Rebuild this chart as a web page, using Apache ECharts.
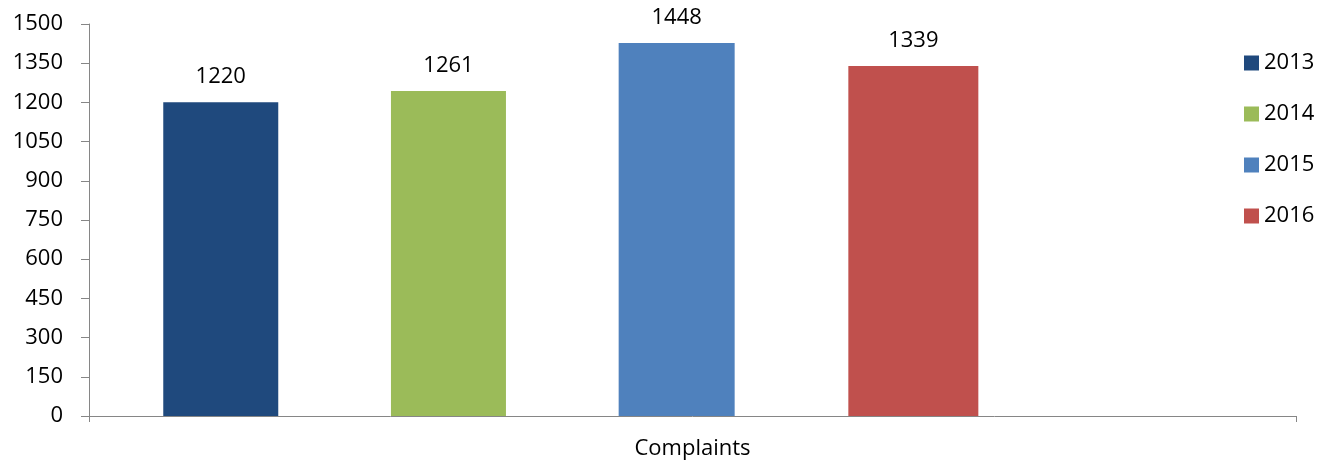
<!DOCTYPE html>
<html>
<head>
<meta charset="utf-8">
<script src="https://cdn.jsdelivr.net/npm/echarts@6/dist/echarts.min.js"></script>
<style>
  html, body { margin: 0; padding: 0; background: #fff; }
  #chart { width: 1319px; height: 464px; }
</style>
</head>
<body>
<div id="chart"></div>
<script>
const categories = ["Complaints"];
const years = ["2013", "2014", "2015", "2016"];
// bar heights as drawn, and the numbers printed above them
const barValues = [1201, 1244, 1427, 1339];
const labelValues = [1220, 1261, 1448, 1339];
const yTicks = { min: 0, max: 1500, interval: 150 };

const colors = ["#1F497D", "#9BBB59", "#4F81BD", "#C0504D"];
const widths = [115, 115, 116, 130];
const fontFamily = "'Open Sans', sans-serif";

const chart = echarts.init(document.getElementById("chart"));

const series = years.map((y, i) => ({
  name: y,
  type: "bar",
  data: [barValues[i]],
  barWidth: widths[i],
  barGap: "98%",
  itemStyle: { color: colors[i] },
  label: {
    show: true,
    position: "top",
    distance: 14,
    color: "#000",
    fontFamily: fontFamily,
    fontSize: 22,
    formatter: () => String(labelValues[i]),
  },
}));
// empty slot so the group sits left of the category centre, as in the original
series.push({
  name: "",
  type: "bar",
  data: [],
  barWidth: 116,
  barGap: "98%",
});

const option = {
  animation: false,
  grid: { left: 89, right: 23, top: 24, bottom: 48 },
  legend: {
    data: years,
    orient: "vertical",
    left: 1239,
    top: 47,
    itemWidth: 15,
    itemHeight: 15,
    itemGap: 29,
    icon: "rect",
    textStyle: { fontFamily: fontFamily, fontSize: 22, color: "#000" },
  },
  xAxis: {
    type: "category",
    data: categories,
    axisLine: { lineStyle: { color: "#868686", width: 1 } },
    axisTick: { show: true, length: 6, lineStyle: { color: "#868686" } },
    axisLabel: { margin: 22, color: "#000", fontFamily: fontFamily, fontSize: 22 },
  },
  yAxis: {
    type: "value",
    min: yTicks.min,
    max: yTicks.max,
    interval: yTicks.interval,
    splitLine: { show: false },
    axisLine: { show: true, lineStyle: { color: "#868686", width: 1 } },
    axisTick: { show: true, length: 8, lineStyle: { color: "#868686" } },
    axisLabel: {
      margin: 26,
      color: "#000",
      fontFamily: fontFamily,
      fontSize: 22,
      formatter: (v) => String(v),
    },
  },
  series: series,
};

chart.setOption(option);
</script>
</body>
</html>
